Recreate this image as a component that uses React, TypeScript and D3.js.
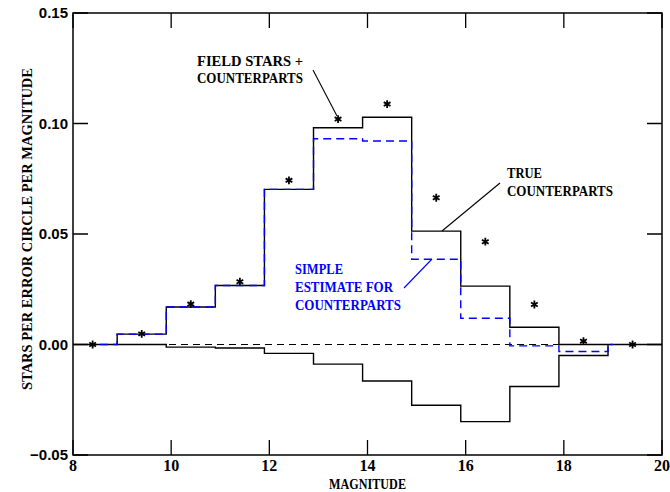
import React, { useEffect } from "react";
import * as d3 from "d3";

// histogram bins (lower edges, 1 mag wide)
const binStarts = [8.9, 9.9, 10.9, 11.9, 12.9, 13.9, 14.9, 15.9, 16.9, 17.9];
const trueCounterparts = [0.0047, 0.017, 0.0267, 0.0702, 0.0981, 0.1028, 0.0513, 0.0264, 0.0078, 0];
const simpleEstimate = [0.0047, 0.017, 0.0267, 0.0702, 0.0931, 0.0921, 0.0386, 0.0119, -0.0006, -0.0032];
const fieldDeficit = [0, -0.0012, -0.0016, -0.004, -0.0089, -0.0165, -0.0275, -0.0349, -0.019, -0.005];

// asterisks: field stars + counterparts
const starMags = [8.4, 9.4, 10.4, 11.4, 12.4, 13.4, 14.4, 15.4, 16.4, 17.4, 18.4, 19.4];
const fieldPlusCounterparts = [0, 0.0048, 0.0183, 0.0284, 0.0743, 0.102, 0.1088, 0.0664, 0.0465, 0.0181, 0.0015, 0];

const xTicks = [8, 10, 12, 14, 16, 18, 20];
const yTicks = [-0.05, 0, 0.05, 0.1, 0.15];

const W = 670;
const H = 492;
const left = 73;
const right = 662;
const top = 13;
const bottom = 455;

const x = d3.scaleLinear().domain([8, 20]).range([left, right]);
const y = d3.scaleLinear().domain([-0.05, 0.15]).range([bottom, top]);

const serif = "'Liberation Serif', 'DejaVu Serif', serif";
const sans = "'Liberation Sans', Arial, sans-serif";

// step path: zero lead-in, bins, back to zero
function stepPath(values: number[], from: number, to: number) {
  const last = binStarts[binStarts.length - 1] + 1;
  const pts: [number, number][] = [[from, 0]];
  binStarts.forEach((b, i) => pts.push([b, values[i]]));
  pts.push([last, 0]);
  if (to > last) pts.push([to, 0]);
  const line = d3
    .line<[number, number]>()
    .x((d) => x(d[0]))
    .y((d) => y(d[1]))
    .curve(d3.curveStepAfter);
  return line(pts) || "";
}

const asterisk = d3.symbol(d3.symbolAsterisk, 42)() || "";

const Label = ({ x0, y0, w, children }: { x0: number; y0: number; w: number; children: string }) => (
  <text x={x0} y={y0} textLength={w} lengthAdjust="spacingAndGlyphs">
    {children}
  </text>
);

export default function App() {
  useEffect(() => {
    document.body.style.margin = "0";
  }, []);

  const tick = 15;

  return (
    <svg width={W} height={H} style={{ display: "block", background: "#fff" }}>
      {/* zero reference */}
      <line
        x1={x(8)}
        x2={x(20)}
        y1={y(0)}
        y2={y(0)}
        stroke="#000"
        strokeWidth={1.2}
        strokeDasharray="7,5"
      />

      <path d={stepPath(trueCounterparts, 8, 20)} fill="none" stroke="#000" strokeWidth={1.4} />
      <path d={stepPath(fieldDeficit, 8.9, 18.9)} fill="none" stroke="#000" strokeWidth={1.4} />
      <path
        d={stepPath(simpleEstimate, 8.55, 19.0)}
        fill="none"
        stroke="#0000ff"
        strokeWidth={1.4}
        strokeDasharray="8,5"
      />

      {starMags.map((m, i) => (
        <path
          key={m}
          d={asterisk}
          transform={`translate(${x(m)},${y(fieldPlusCounterparts[i])})`}
          fill="none"
          stroke="#000"
          strokeWidth={1.8}
        />
      ))}

      {/* frame */}
      <rect
        x={left}
        y={top}
        width={right - left}
        height={bottom - top}
        fill="none"
        stroke="#000"
        strokeWidth={1.5}
      />

      {xTicks.map((t) => (
        <g key={"x" + t}>
          <line x1={x(t)} x2={x(t)} y1={bottom} y2={bottom - tick} stroke="#000" strokeWidth={1.3} />
          <line x1={x(t)} x2={x(t)} y1={top} y2={top + tick} stroke="#000" strokeWidth={1.3} />
          <text
            x={x(t)}
            y={471}
            textAnchor="middle"
            fontFamily={serif}
            fontWeight="bold"
            fontSize={16}
          >
            {t}
          </text>
        </g>
      ))}

      {yTicks.map((t) => (
        <g key={"y" + t}>
          <line x1={left} x2={left + tick} y1={y(t)} y2={y(t)} stroke="#000" strokeWidth={1.5} />
          <line x1={right} x2={right - tick} y1={y(t)} y2={y(t)} stroke="#000" strokeWidth={1.5} />
          <text
            x={68}
            y={y(t) + 5}
            textAnchor="end"
            fontFamily={sans}
            fontWeight="bold"
            fontSize={15}
          >
            {t < 0 ? "\u22120.05" : d3.format(".2f")(t)}
          </text>
        </g>
      ))}

      <text
        x={x(14)}
        y={489}
        textAnchor="middle"
        fontFamily={serif}
        fontWeight="bold"
        fontSize={14}
        textLength={77}
        lengthAdjust="spacingAndGlyphs"
      >
        MAGNITUDE
      </text>
      <text
        transform={`translate(32,229) rotate(-90)`}
        textAnchor="middle"
        fontFamily={serif}
        fontWeight="bold"
        fontSize={14}
        textLength={322}
        lengthAdjust="spacingAndGlyphs"
      >
        STARS PER ERROR CIRCLE PER MAGNITUDE
      </text>

      {/* annotations */}
      <g fontFamily={serif} fontWeight="bold" fontSize={14.5}>
        <Label x0={197} y0={66} w={106}>FIELD STARS +</Label>
        <Label x0={197} y0={83} w={106}>COUNTERPARTS</Label>
        <line x1={313} y1={70} x2={337} y2={116} stroke="#000" strokeWidth={1.1} />

        <Label x0={507} y0={178} w={35}>TRUE</Label>
        <Label x0={507} y0={196} w={106}>COUNTERPARTS</Label>
        <line x1={500} y1={183} x2={442} y2={231} stroke="#000" strokeWidth={1.1} />

        <g fill="#0000ff">
          <Label x0={295} y0={274} w={48}>SIMPLE</Label>
          <Label x0={295} y0={292} w={98}>ESTIMATE FOR</Label>
          <Label x0={295} y0={310} w={106}>COUNTERPARTS</Label>
        </g>
        <line x1={404} y1={288} x2={432} y2={259} stroke="#0000ff" strokeWidth={1.1} />
      </g>
    </svg>
  );
}
